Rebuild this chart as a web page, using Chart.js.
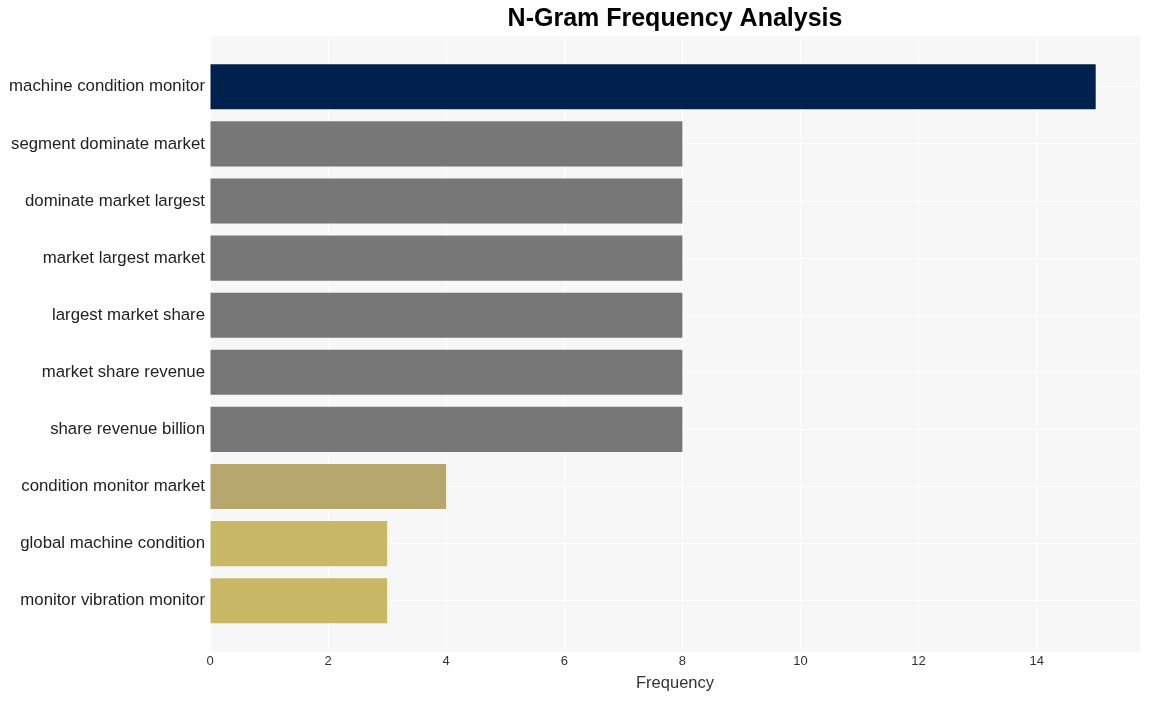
<!DOCTYPE html>
<html>
<head>
<meta charset="utf-8">
<script src="https://cdn.jsdelivr.net/npm/chart.js@4/dist/chart.umd.min.js"></script>
<style>
  html, body { margin: 0; padding: 0; background: #fff; }
  #wrap { width: 1149px; height: 701px; }
</style>
</head>
<body>
<div id="wrap"><canvas id="ngramChart"></canvas></div>
<script>
// n-gram labels and counts
const ngrams = [
    'machine condition monitor',
    'segment dominate market',
    'dominate market largest',
    'market largest market',
    'largest market share',
    'market share revenue',
    'share revenue billion',
    'condition monitor market',
    'global machine condition',
    'monitor vibration monitor'
];
const counts = [15, 8, 8, 8, 8, 8, 8, 4, 3, 3];
const barColors = ['#00214e', '#777777', '#777777', '#777777', '#777777', '#777777', '#777777', '#b6a76d', '#c8b866', '#c8b866'];
const xTicks = [0, 2, 4, 6, 8, 10, 12, 14];

// grey panel behind the bars
const panelBg = {
    id: 'panelBg',
    beforeDraw(chart) {
        const a = chart.chartArea;
        const c = chart.ctx;
        c.save();
        c.fillStyle = '#f7f7f7';
        c.fillRect(a.left, a.top, a.right - a.left, a.bottom - a.top);
        c.restore();
    }
};

document.addEventListener('DOMContentLoaded', function () {
    const ctx = document.getElementById('ngramChart');
    // y is a numeric row index so the panel can have some room above/below the bars
    const rows = counts.map((v, i) => ({ x: v, y: i }));
    new Chart(ctx, {
        type: 'bar',
        data: {
            datasets: [{
                data: rows,
                backgroundColor: barColors,
                categoryPercentage: 1,
                barPercentage: 0.79
            }]
        },
        options: {
            indexAxis: 'y',
            responsive: true,
            maintainAspectRatio: false,
            animation: false,
            layout: { padding: { left: 0, right: 9, top: 0, bottom: 8 } },
            plugins: {
                legend: { display: false },
                tooltip: { enabled: false },
                title: {
                    display: true,
                    fullSize: false,
                    text: 'N-Gram Frequency Analysis',
                    color: '#000',
                    font: { family: 'Liberation Sans, Arial, sans-serif', size: 25, weight: 'bold' },
                    padding: { top: 4, bottom: 2 }
                }
            },
            scales: {
                x: {
                    min: 0,
                    max: 15.75,
                    afterBuildTicks(axis) {
                        axis.ticks = xTicks.map(v => ({ value: v }));
                    },
                    grid: { color: '#ffffff', lineWidth: 1, drawTicks: false },
                    border: { display: false },
                    ticks: {
                        color: '#333',
                        padding: 2,
                        font: { family: 'Liberation Sans, Arial, sans-serif', size: 13 }
                    },
                    title: {
                        display: true,
                        text: 'Frequency',
                        color: '#333',
                        font: { family: 'Liberation Sans, Arial, sans-serif', size: 16.5 },
                        padding: { top: 1.5, bottom: 0 }
                    }
                },
                y: {
                    type: 'linear',
                    reverse: true,
                    offset: false,
                    min: -0.89,
                    max: 9.9,
                    afterBuildTicks(axis) {
                        axis.ticks = ngrams.map((_, i) => ({ value: i }));
                    },
                    afterFit(axis) { axis.width = 210; },
                    grid: { color: '#ffffff', lineWidth: 1, offset: false, drawTicks: false },
                    border: { display: false },
                    ticks: {
                        color: '#222',
                        padding: 5,
                        font: { family: 'Liberation Sans, Arial, sans-serif', size: 16.8 },
                        callback: v => ngrams[v]
                    }
                }
            }
        },
        plugins: [panelBg]
    });
});
</script>
</body>
</html>
